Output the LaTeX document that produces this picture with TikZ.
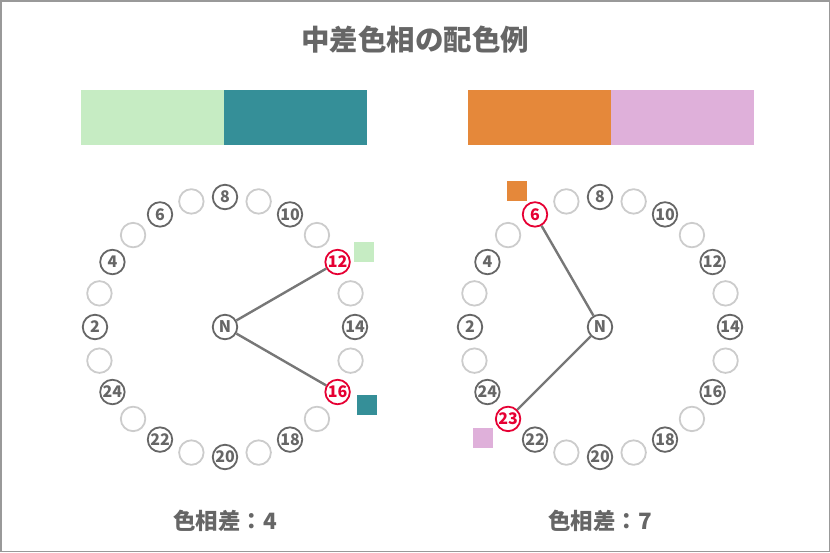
\documentclass[tikz,border=0pt]{standalone}
\usepackage{fontspec}
\setmainfont{Noto Sans CJK JP}
\usepackage{tikz}
\usetikzlibrary{calc}
\definecolor{textgray}{HTML}{666666}
\definecolor{ringgray}{HTML}{CCCCCC}
\definecolor{linegray}{HTML}{777777}
\definecolor{framegray}{HTML}{999999}
\definecolor{selred}{HTML}{E60033}
\definecolor{mintgreen}{HTML}{C6ECC3}
\definecolor{tealblue}{HTML}{358F98}
\definecolor{warmorange}{HTML}{E5883A}
\definecolor{lilacpink}{HTML}{DFB0DA}
\tikzset{
  hue/.style={
    circle,draw=textgray,line width=1.8pt,minimum size=24.5pt,inner sep=0pt,
    font=\bfseries\fontsize{16}{16}\selectfont,text=textgray
  },
  huegap/.style={hue,draw=ringgray},
  huesel/.style={hue,draw=selred,text=selred},
  swatch/.style={minimum size=20pt,inner sep=0pt},
  bar/.style={minimum width=143pt,minimum height=55pt,inner sep=0pt},
  caption/.style={font=\bfseries\fontsize{22.5}{22.5}\selectfont,text=textgray},
  link/.style={draw=linegray,line width=2.4pt}
}
% one ring of 24 hues round a centre node; #3 and #4 are the chosen hues
\newcommand{\huering}[4]{%
  \foreach \k in {1,...,24}{
    \pgfmathtruncatemacro{\hang}{15*\k-210}
    \ifodd\k \def\hsty{huegap}\def\hlab{}\else\def\hsty{hue}\def\hlab{\k}\fi
    \ifnum\k=#3 \def\hsty{huesel}\def\hlab{\k}\fi
    \ifnum\k=#4 \def\hsty{huesel}\def\hlab{\k}\fi
    \node[\hsty] (#1\k) at ($(#2)+(\hang:130)$) {\hlab};
  }}

\begin{document}
\begin{tikzpicture}[x=1pt,y=-1pt]
  \useasboundingbox (0,0) rectangle (830,552);
  \draw[framegray,line width=1.5pt] (0.75,0.75) rectangle (829.25,551.25);
  \node[font=\bfseries\fontsize{28.5}{28.5}\selectfont,text=textgray] (title) at (415,40) {中差色相の配色例};

  % left: hue difference 4
  \node[bar,fill=mintgreen] (barLa) at (152.5,117.5) {};
  \node[bar,fill=tealblue] (barLb) at (295.5,117.5) {};
  \node[hue] (Lc) at (225,327) {N};
  \huering{L}{Lc}{12}{16}
  \draw[link] (Lc) -- (L12);
  \draw[link] (Lc) -- (L16);
  \node[swatch,fill=mintgreen] (swLa) at (364,252) {};
  \node[swatch,fill=tealblue] (swLb) at (367,404.5) {};
  \node[caption] (capL) at (225,521) {色相差：4};

  % right: hue difference 7
  \node[bar,fill=warmorange] (barRa) at (539.5,117.5) {};
  \node[bar,fill=lilacpink] (barRb) at (682.5,117.5) {};
  \node[hue] (Rc) at (600,327) {N};
  \huering{R}{Rc}{6}{23}
  \draw[link] (Rc) -- (R6);
  \draw[link] (Rc) -- (R23);
  \node[swatch,fill=warmorange] (swRa) at (517,191) {};
  \node[swatch,fill=lilacpink] (swRb) at (483,438) {};
  \node[caption] (capR) at (600,521) {色相差：7};
\end{tikzpicture}
\end{document}
